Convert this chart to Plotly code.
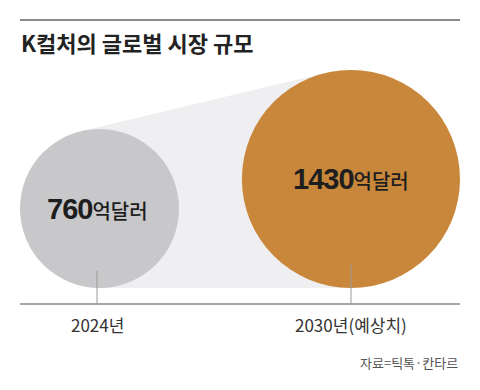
import math
import plotly.graph_objects as go

# ---- data ----
categories = ["2024년", "2030년(예상치)"]
values = [760, 1430]
value_numbers = ["760", "1430"]
unit_label = "억달러"
title_text = "K컬처의 글로벌 시장 규모"
source_text = "자료=틱톡·칸타르"

# ---- layout constants (pixel-like coordinate system, y up) ----
W, H = 480, 390
LEFT, RIGHT = 20, 460
axis_y = 86          # baseline rule
circle_bottom = 102  # circles rest on this line
k = 79.5 / math.sqrt(760)  # radius scale: r = k * sqrt(value)
label_x = [97, 351]

radii = [k * math.sqrt(v) for v in values]
cx = [LEFT + radii[0], RIGHT - radii[1]]
cy = [circle_bottom + r for r in radii]

# external top tangent of the two circles (convex hull band)
dx, dy = cx[1] - cx[0], cy[1] - cy[0]
d = math.hypot(dx, dy)
a = math.atan2(dy, dx)
th = math.acos((radii[0] - radii[1]) / d)
n = a + th
t1 = (cx[0] + radii[0] * math.cos(n), cy[0] + radii[0] * math.sin(n))
t2 = (cx[1] + radii[1] * math.cos(n), cy[1] + radii[1] * math.sin(n))
hull_path = (f"M {cx[0]},{circle_bottom} L {cx[1]},{circle_bottom} "
             f"L {t2[0]},{t2[1]} L {t1[0]},{t1[1]} Z")

colors = ["#c8c8ca", "#c8873a"]

fig = go.Figure()

# circles via marker area scaling (plotly: radius = sqrt(v / (2*sizeref)))
sizeref = 1 / (2 * k * k)
fig.add_trace(go.Scatter(
    x=cx, y=cy, mode="markers",
    marker=dict(size=values, sizemode="area", sizeref=sizeref,
                color=colors, opacity=1, line=dict(width=0)),
    hoverinfo="skip", showlegend=False,
))

shapes = [
    dict(type="path", path=hull_path, fillcolor="#efeff1", line=dict(width=0),
         layer="below", xref="x", yref="y"),
    # top rule
    dict(type="line", x0=LEFT, x1=RIGHT, y0=H - 20, y1=H - 20,
         line=dict(color="#8c8c8c", width=2), xref="x", yref="y"),
    # baseline
    dict(type="line", x0=LEFT, x1=RIGHT, y0=axis_y, y1=axis_y,
         line=dict(color="#8a8a8a", width=1.5), xref="x", yref="y", layer="above"),
]
for i, lx in enumerate(label_x):
    shapes.append(dict(type="line", x0=lx, x1=lx, y0=axis_y,
                       y1=circle_bottom + radii[i] * 0.22,
                       line=dict(color="#9a9a9a", width=1), xref="x", yref="y",
                       layer="above"))

num_font = "'Liberation Sans',Arial,sans-serif"
annotations = [
    dict(x=LEFT - 1, y=H - 42, text=title_text, showarrow=False, xanchor="left",
         yanchor="middle", font=dict(family="Noto Sans CJK KR", size=22,
                                     color="#222222", weight=700)),
    dict(x=RIGHT, y=H - 362, text=source_text, showarrow=False, xanchor="right",
         yanchor="middle", font=dict(family="Noto Sans CJK KR", size=13, color="#555555")),
]
for i, lx in enumerate(label_x):
    annotations.append(dict(
        x=lx, y=cy[i], showarrow=False, xanchor="center", yanchor="middle",
        text=(f"<span style=\"font-family:{num_font};font-size:29px;"
              f"font-weight:bold;letter-spacing:-1px\">{value_numbers[i]}</span>"
              f"<span style=\"font-size:20px;font-weight:500\">{unit_label}</span>"),
        font=dict(family="Noto Sans CJK KR", color="#1e1e1e", size=20),
    ))
    annotations.append(dict(
        x=lx, y=H - 324, text=categories[i], showarrow=False,
        xanchor="center", yanchor="middle",
        font=dict(family="Noto Sans CJK KR", size=17, color="#333333"),
    ))

fig.update_layout(
    width=W, height=H, margin=dict(l=0, r=0, t=0, b=0),
    paper_bgcolor="white", plot_bgcolor="white",
    xaxis=dict(range=[0, W], visible=False, fixedrange=True),
    yaxis=dict(range=[0, H], visible=False, fixedrange=True),
    shapes=shapes, annotations=annotations, showlegend=False,
)

fig.write_html("out.html", config={"displayModeBar": False, "staticPlot": True},
               post_script="document.body.style.margin='0';")
